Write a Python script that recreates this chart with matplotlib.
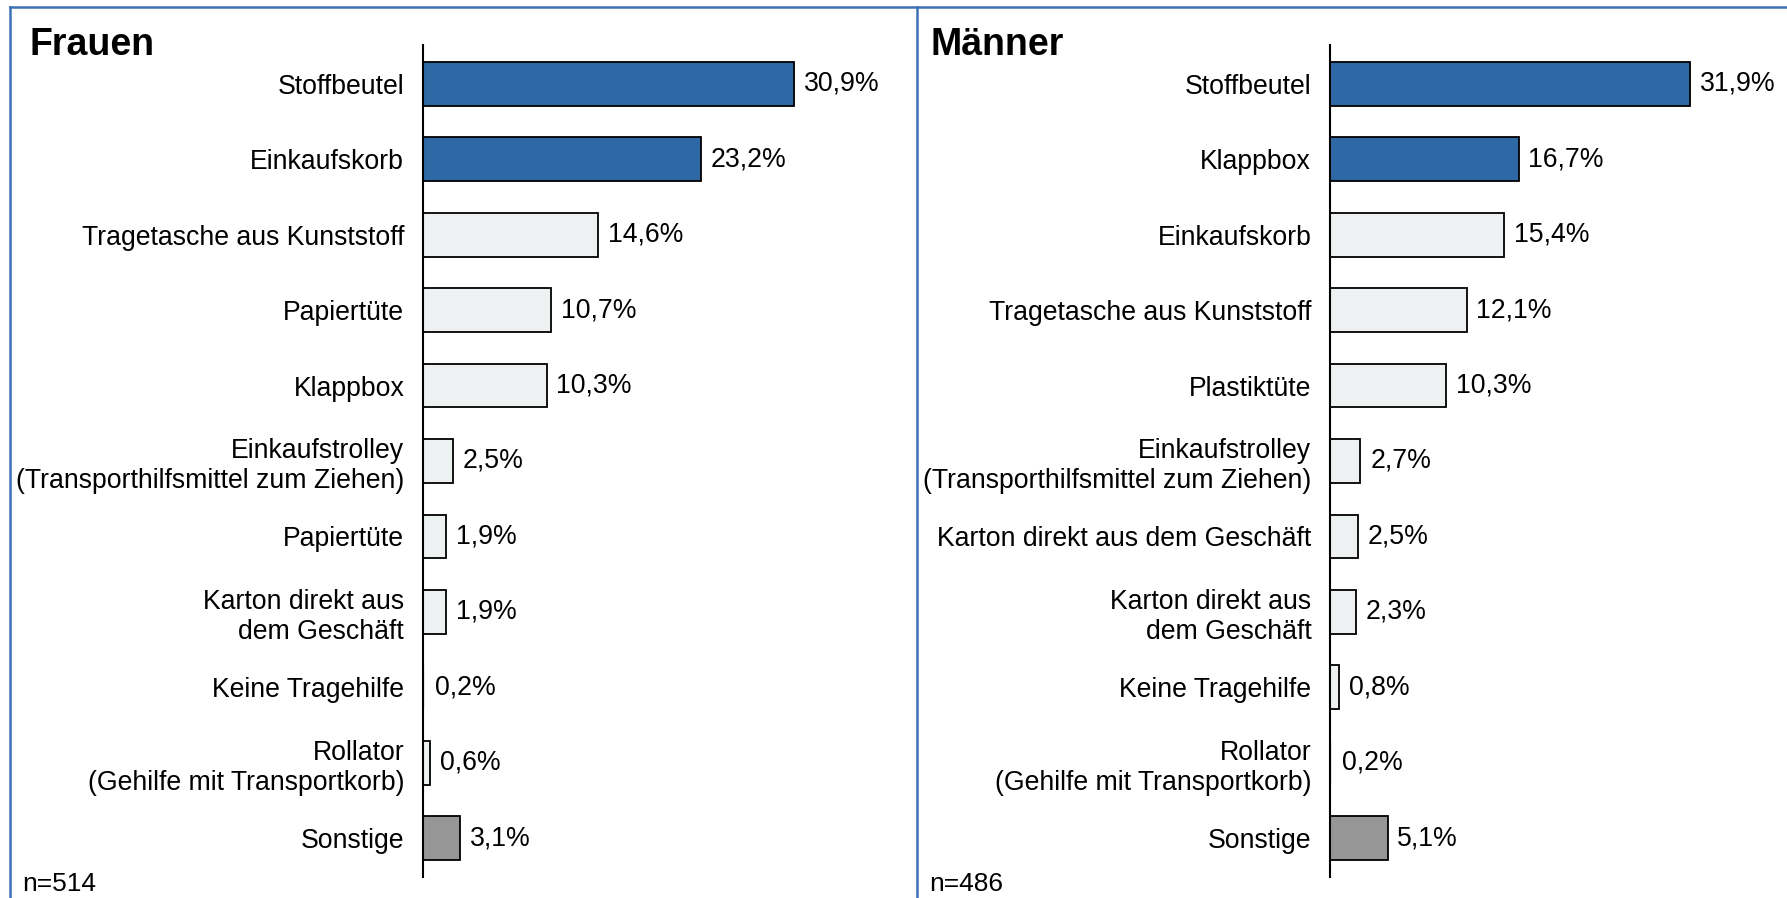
import numpy as np
import matplotlib
matplotlib.use("Agg")
import matplotlib.pyplot as plt
from matplotlib.lines import Line2D

plt.rcParams['font.family'] = ['Liberation Sans', 'DejaVu Sans']

# Daten
frauen_labels = ["Stoffbeutel", "Einkaufskorb", "Tragetasche aus Kunststoff", "Papiertüte",
                 "Klappbox", "Einkaufstrolley\n(Transporthilfsmittel zum Ziehen)", "Papiertüte",
                 "Karton direkt aus\ndem Geschäft", "Keine Tragehilfe",
                 "Rollator\n(Gehilfe mit Transportkorb)", "Sonstige"]
frauen_werte = [30.9, 23.2, 14.6, 10.7, 10.3, 2.5, 1.9, 1.9, 0.2, 0.6, 3.1]

maenner_labels = ["Stoffbeutel", "Klappbox", "Einkaufskorb", "Tragetasche aus Kunststoff",
                  "Plastiktüte", "Einkaufstrolley\n(Transporthilfsmittel zum Ziehen)",
                  "Karton direkt aus dem Geschäft", "Karton direkt aus\ndem Geschäft",
                  "Keine Tragehilfe", "Rollator\n(Gehilfe mit Transportkorb)", "Sonstige"]
maenner_werte = [31.9, 16.7, 15.4, 12.1, 10.3, 2.7, 2.5, 2.3, 0.8, 0.2, 5.1]

BLAU = "#2E69A6"
HELL = "#EEF1F1"
GRAU = "#969696"
RAHMEN = "#3C72B3"

W, H = 1787, 898
fig = plt.figure(figsize=(W / 100, H / 100), dpi=100)


def panel(x_px, px_pro_prozent, labels, werte):
    xmax = 35
    ax = fig.add_axes([x_px / W, (H - 877) / H, xmax * px_pro_prozent / W, 832 / H])
    n = len(werte)
    farben = [BLAU, BLAU] + [HELL] * (n - 3) + [GRAU]
    # ganz kleine Balken verschwinden hinter der Achse
    kanten = ["black" if v >= 0.5 else "none" for v in werte]
    y = np.arange(n)
    ax.barh(y, werte, height=0.58, color=farben, edgecolor=kanten, linewidth=1.3)
    ax.set_ylim(n - 0.485, -0.515)
    ax.set_xlim(0, xmax)
    ax.set_yticks(y)
    ax.set_yticklabels(labels, fontsize=19.2, ha="right")
    ax.tick_params(axis="y", length=0, pad=13.5)
    ax.set_xticks([])
    for s in ["top", "right", "bottom"]:
        ax.spines[s].set_visible(False)
    ax.spines["left"].set_linewidth(1.5)
    ax.spines["left"].set_zorder(5)
    for i, v in enumerate(werte):
        ax.annotate(f"{v:.1f}".replace(".", ",") + "%", (v, i), xytext=(7, 0),
                    textcoords="offset points", va="center", ha="left", fontsize=19.2)
    return ax


panel(423, 12.0, frauen_labels, frauen_werte)
panel(1330, 11.29, maenner_labels, maenner_werte)

fig.text(30 / W, (H - 55) / H, "Frauen", fontsize=27, fontweight="bold", va="baseline")
fig.text(930 / W, (H - 55) / H, "Männer", fontsize=27, fontweight="bold", va="baseline")
fig.text(22 / W, (H - 891) / H, "n=514", fontsize=19, va="baseline")
fig.text(929 / W, (H - 891) / H, "n=486", fontsize=19, va="baseline")

# Rahmen
top = (H - 7) / H
fig.add_artist(Line2D([10 / W, 1], [top, top], color=RAHMEN, lw=1.8))
fig.add_artist(Line2D([10 / W, 10 / W], [0, top], color=RAHMEN, lw=1.8))
fig.add_artist(Line2D([917 / W, 917 / W], [0, top], color=RAHMEN, lw=1.8))

fig.savefig("out.png", dpi=100)
